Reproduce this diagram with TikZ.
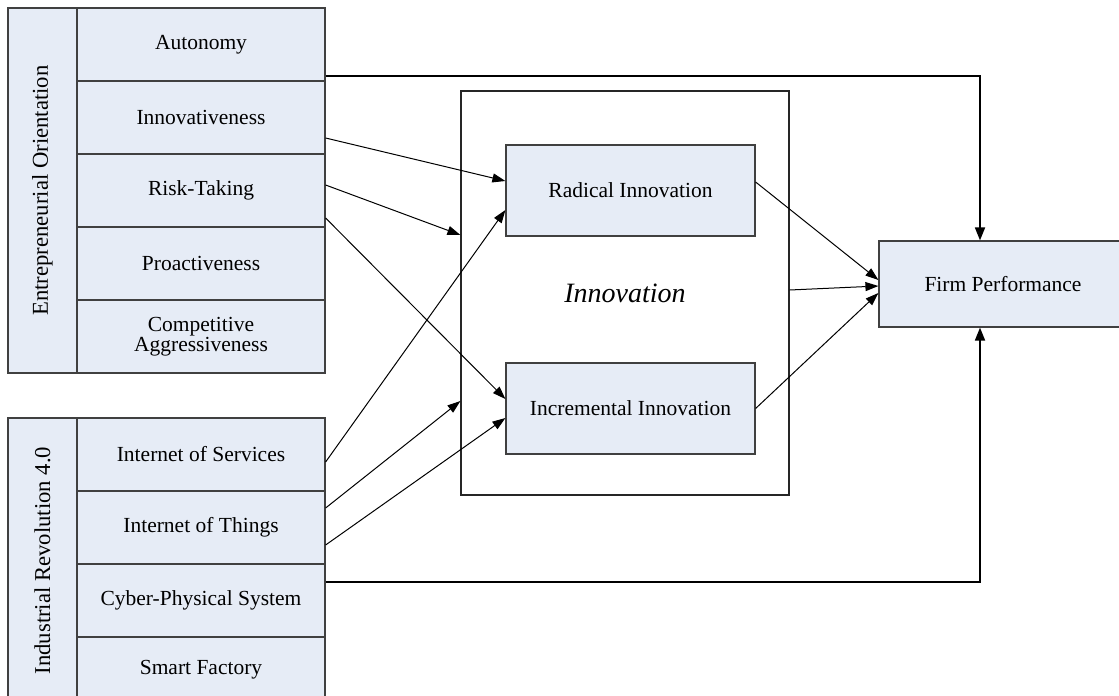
\documentclass[tikz,border=0pt]{standalone}
\usepackage{fontspec}
\setmainfont{Liberation Serif}
\usetikzlibrary{arrows.meta}
\definecolor{boxfill}{RGB}{230,236,246}
\definecolor{boxline}{RGB}{64,64,64}

\begin{document}
\begin{tikzpicture}[x=1pt,y=-1pt,
  item/.style={draw=boxline,fill=boxfill,line width=1.2pt,inner sep=0pt,
    minimum width=248pt,minimum height=73pt,align=center,
    font=\fontsize{21.5}{20.5}\selectfont},
  side/.style={draw=boxline,fill=boxfill,line width=1.2pt,inner sep=0pt,
    rotate=90,minimum height=69pt,font=\fontsize{22.7}{26}\selectfont},
  link/.style={-{Triangle[length=13pt,width=9pt]},line width=1pt},
  feed/.style={-{Triangle[length=13pt,width=10pt]},line width=1.8pt}]
\useasboundingbox (0,0) rectangle (1119,696);
% entrepreneurial orientation
\node[side,minimum width=365pt] (eo) at (42.5,190.5) {Entrepreneurial Orientation};
\node[item] (auto) at (201,44.5) {Autonomy};
\node[item] (inno) at (201,117.5) {Innovativeness};
\node[item] (risk) at (201,190.5) {Risk-Taking};
\node[item] (proa) at (201,263.5) {Proactiveness};
\node[item] (comp) at (201,336.5) {Competitive\\Aggressiveness};
% industrial revolution 4.0
\node[side,minimum width=285pt] (ir) at (42.5,560.5) {Industrial Revolution 4.0};
\node[item] (ios) at (201,454.5) {Internet of Services};
\node[item] (iot) at (201,527.5) {Internet of Things};
\node[item] (cps) at (201,600.5) {Cyber-Physical System};
\node[item,minimum height=66pt] (smart) at (201,670) {Smart Factory};
% innovation
\node[draw=black!85,line width=1.2pt,minimum width=328pt,minimum height=404pt,
  font=\fontsize{28}{32}\selectfont\itshape] (innov) at (625,293) {Innovation};
\node[item,minimum width=249pt,minimum height=91pt] (rad) at (630.5,190.5) {Radical Innovation};
\node[item,minimum width=249pt,minimum height=91pt] (incr) at (630.5,408.5) {Incremental Innovation};
% outcome
\node[item,minimum height=86pt] (fp) at (1003,284) {Firm Performance};

\draw[link] ([yshift=-20.5pt]inno.east) -- ([yshift=9.5pt]rad.west);
\draw[link] ([yshift=5.5pt]risk.east) -- ([yshift=58pt]innov.west);
\draw[link] ([yshift=-27.5pt]risk.east) -- ([yshift=9.5pt]incr.west);
\draw[link] ([yshift=-7.5pt]ios.east) -- ([yshift=-19.5pt]rad.west);
\draw[link] ([yshift=19.5pt]iot.east) -- ([yshift=-108pt]innov.west);
\draw[link] ([yshift=-17.5pt]iot.east) -- ([yshift=-9.5pt]incr.west);
\draw[link] ([yshift=8.5pt]rad.east) -- ([yshift=4pt]fp.west);
\draw[link] ([yshift=3pt]innov.east) -- ([yshift=-2pt]fp.west);
\draw[link] (incr.east) -- ([yshift=-9pt]fp.west);
\draw[feed] ([yshift=-31.5pt]auto.east) -| ([xshift=-23pt]fp.north);
\draw[feed] ([yshift=18.5pt]cps.east) -| ([xshift=-23pt]fp.south);
\end{tikzpicture}
\end{document}
